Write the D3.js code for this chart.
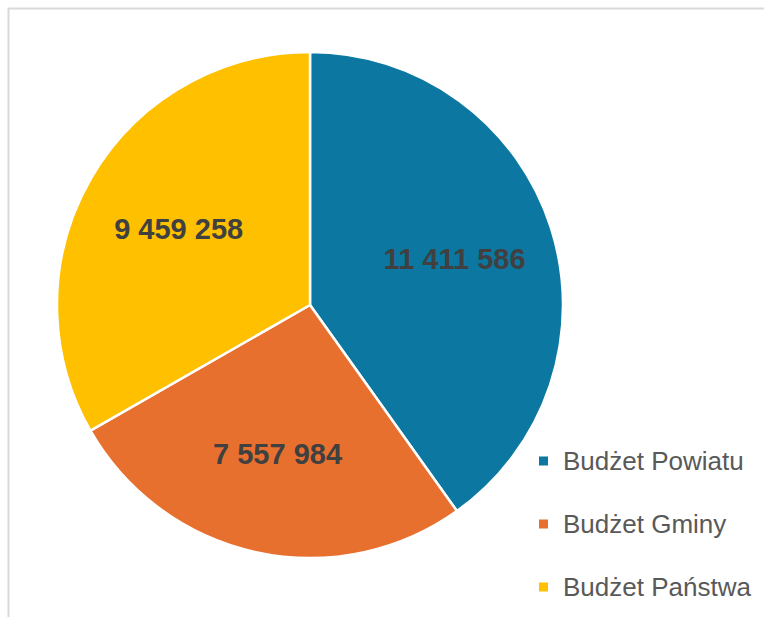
<!DOCTYPE html>
<html><head><meta charset="utf-8">
<script src="https://cdn.jsdelivr.net/npm/d3@7"></script>
<style>body{margin:0;background:#fff}svg{display:block}</style>
</head><body>
<svg id="chart" width="764" height="617"></svg>
<script>
const categories = ["Budżet Powiatu", "Budżet Gminy", "Budżet Państwa"];
const values = [11411586, 7557984, 9459258];
const labels = ["11 411 586", "7 557 984", "9 459 258"];
const colors = ["#0C78A1", "#E8702F", "#FFC000"];

const svg = d3.select("#chart");
// chart frame
svg.append("rect").attr("x", 8.5).attr("y", 8.5).attr("width", 780).attr("height", 640)
  .attr("fill", "#fff").attr("stroke", "#d9d9d9").attr("stroke-width", 2);

const cx = 310, cy = 305, r = 253;
const data = categories.map((c, i) => ({cat: c, value: values[i], label: labels[i], color: colors[i]}));
const pie = d3.pie().sort(null).value(d => d.value);
const arcs = pie(data);
const arc = d3.arc().innerRadius(0).outerRadius(r);
const labelArc = d3.arc().innerRadius(r * 0.6).outerRadius(r * 0.6);

const g = svg.append("g").attr("transform", `translate(${cx},${cy})`);
g.selectAll("path").data(arcs).enter().append("path")
  .attr("d", arc).attr("fill", d => d.data.color)
  .attr("stroke", "#fff").attr("stroke-width", 2.5).attr("stroke-linejoin", "round");

const fs = 29;
g.selectAll("text.lbl").data(arcs).enter().append("text").attr("class", "lbl")
  .attr("transform", d => { const c = labelArc.centroid(d); return `translate(${c[0]},${c[1]})`; })
  .attr("text-anchor", "middle").attr("dy", fs * 0.36)
  .attr("font-family", "Liberation Sans, Arial, sans-serif").attr("font-weight", "bold")
  .attr("font-size", fs).attr("fill", "#404040")
  .text(d => d.data.label);

const legend = svg.append("g").attr("transform", "translate(539,461)");
const li = legend.selectAll("g").data(data).enter().append("g")
  .attr("transform", (d, i) => `translate(0,${i * 63})`);
li.append("rect").attr("x", 0).attr("y", -4.5).attr("width", 9).attr("height", 9).attr("fill", d => d.color);
li.append("text").attr("x", 24).attr("y", 0).attr("dy", 26 * 0.36)
  .attr("font-family", "Liberation Sans, Arial, sans-serif").attr("font-size", 26)
  .attr("fill", "#595959").text(d => d.cat);
</script>
</body></html>
